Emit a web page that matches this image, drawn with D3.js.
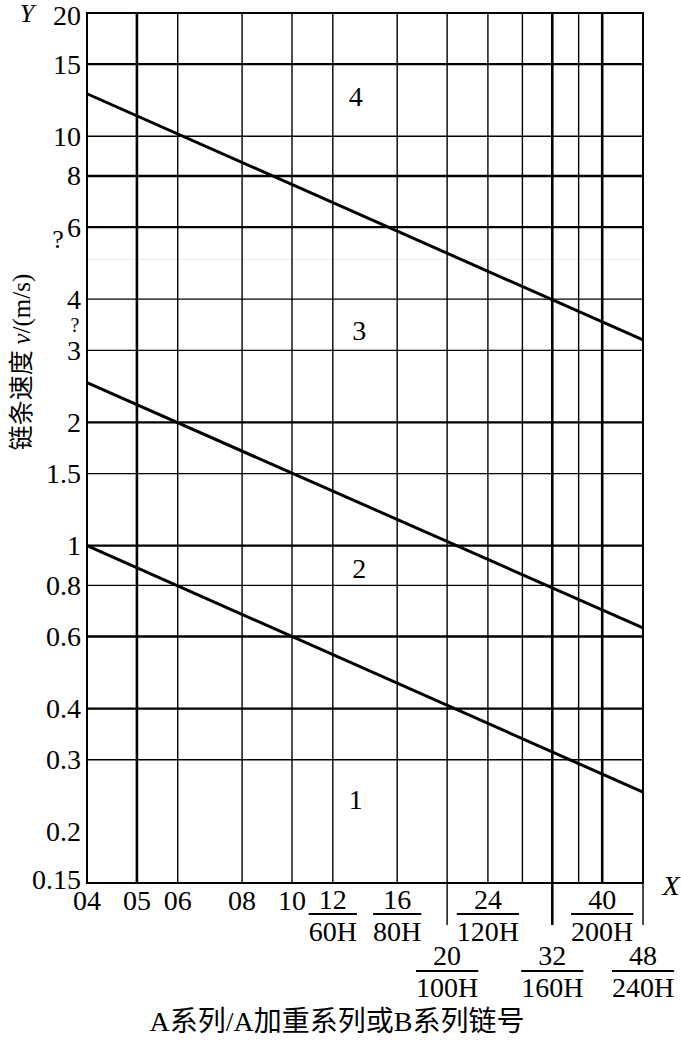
<!DOCTYPE html>
<html>
<head>
<meta charset="utf-8">
<script src="https://cdn.jsdelivr.net/npm/d3@7"></script>
<style>
  html, body { margin: 0; padding: 0; background: #fff; }
  svg { display: block; }
  text { font-family: "Liberation Serif", "Times New Roman", "Noto Sans CJK SC", serif; fill: #000; }
</style>
</head>
<body>
<svg id="chart" width="681" height="1043"></svg>
<script>
// ---- data ----
const chainGrid = [4, 5, 6, 8, 10, 12, 16, 20, 24, 28, 32, 36, 40, 48];
const chainThick = [5, 32, 40];
const speedGrid = [15, 10, 8, 6, 4, 3, 2, 1.5, 1, 0.8, 0.6, 0.4, 0.3];
const speedThick = [15, 8, 6, 2, 1, 0.6, 0.4];
const speedFaint = [5];
const yTickValues = [20, 15, 10, 8, 6, 4, 3, 2, 1.5, 1, 0.8, 0.6, 0.4, 0.3, 0.2, 0.15];
const yTickLabels = ["20", "15", "10", "8", "6", "4", "3", "2", "1.5", "1", "0.8", "0.6", "0.4", "0.3", "0.2", "0.15"];
const xPlainTicks = [4, 5, 6, 8, 10];
const xPlainLabels = ["04", "05", "06", "08", "10"];
const xUpperFracTicks = [12, 16, 24, 40];
const xUpperFracNum = ["12", "16", "24", "40"];
const xUpperFracDen = ["60H", "80H", "120H", "200H"];
const xLowerFracTicks = [20, 32, 48];
const xLowerFracNum = ["20", "32", "48"];
const xLowerFracDen = ["100H", "160H", "240H"];
const lineChain = [4, 48];
const line1 = [1.0, 0.25];
const line2 = [2.5, 0.63];
const line3 = [12.7, 3.18];
const curveLabels = ["1", "2", "3", "4"];
const curveLabelX = [13.3, 13.5, 13.5, 13.3];
const curveLabelY = [0.24, 0.88, 3.36, 12.5];
const glitchMarks = ["?", "?"];
const glitchY = [5.6, 3.45];

// ---- layout ----
const L = 87, R = 643, T = 13, B = 883;
const svg = d3.select("#chart");
const x = d3.scaleLog().domain([4, 48]).range([L, R]);
const y = d3.scaleLog().domain([0.15, 20]).range([B, T]);
const FS = 28;

// faint lines
svg.append("g").selectAll("line").data(speedFaint).join("line")
  .attr("x1", L).attr("x2", R).attr("y1", d => y(d)).attr("y2", d => y(d))
  .attr("stroke", "#ececec").attr("stroke-width", 1);

// horizontal grid
svg.append("g").selectAll("line").data(speedGrid).join("line")
  .attr("x1", L).attr("x2", R).attr("y1", d => y(d)).attr("y2", d => y(d))
  .attr("stroke", "#000")
  .attr("stroke-width", d => speedThick.includes(d) ? 2.4 : 1.4);

// vertical grid
svg.append("g").selectAll("line").data(chainGrid.filter(d => d !== 4 && d !== 48)).join("line")
  .attr("x1", d => x(d)).attr("x2", d => x(d)).attr("y1", T).attr("y2", B)
  .attr("stroke", "#000")
  .attr("stroke-width", d => chainThick.includes(d) ? 2.6 : 1.4);

// extended ticks below axis
svg.append("g").selectAll("line").data(xLowerFracTicks).join("line")
  .attr("x1", d => x(d)).attr("x2", d => x(d)).attr("y1", B).attr("y2", B + 42)
  .attr("stroke", "#000")
  .attr("stroke-width", d => chainThick.includes(d) ? 2.6 : 1.4);

// frame
svg.append("rect").attr("x", L).attr("y", T).attr("width", R - L).attr("height", B - T)
  .attr("fill", "none").attr("stroke", "#000").attr("stroke-width", 2);

// curves
const lineGen = d3.line().x(d => x(d[0])).y(d => y(d[1]));
[line1, line2, line3].forEach(s => {
  svg.append("path")
    .datum(lineChain.map((c, i) => [c, s[i]]))
    .attr("d", lineGen)
    .attr("fill", "none").attr("stroke", "#000").attr("stroke-width", 3);
});

// curve labels
svg.append("g").selectAll("text").data(curveLabels).join("text")
  .attr("x", (d, i) => x(curveLabelX[i])).attr("y", (d, i) => y(curveLabelY[i]))
  .attr("text-anchor", "middle").attr("dominant-baseline", "central")
  .attr("font-size", FS).text(d => d);

// y tick labels
svg.append("g").selectAll("text").data(yTickValues).join("text")
  .attr("x", L - 6).attr("y", d => y(d) + (d === 0.15 ? -4 : d === 20 ? 2 : 0))
  .attr("text-anchor", "end").attr("dominant-baseline", "central")
  .attr("font-size", FS).text((d, i) => yTickLabels[i]);

// glitch marks
svg.append("g").selectAll("text").data(glitchMarks).join("text")
  .attr("x", (d, i) => i === 0 ? 58 : 75).attr("y", (d, i) => y(glitchY[i]))
  .attr("text-anchor", "middle").attr("dominant-baseline", "central")
  .attr("font-size", (d, i) => i === 0 ? 26 : 20).text(d => d);

// x plain labels
svg.append("g").selectAll("text").data(xPlainTicks).join("text")
  .attr("x", d => x(d)).attr("y", 910)
  .attr("text-anchor", "middle").attr("font-size", FS)
  .text((d, i) => xPlainLabels[i]);

function fractions(ticks, nums, dens, numY, barY, denY) {
  const g = svg.append("g");
  ticks.forEach((t, i) => {
    const cx = x(t);
    g.append("text").attr("x", cx).attr("y", numY).attr("text-anchor", "middle")
      .attr("font-size", FS).text(nums[i]);
    const den = g.append("text").attr("x", cx).attr("y", denY).attr("text-anchor", "middle")
      .attr("font-size", FS).text(dens[i]);
    const w = den.node().getComputedTextLength();
    g.append("line").attr("x1", cx - w / 2).attr("x2", cx + w / 2)
      .attr("y1", barY).attr("y2", barY).attr("stroke", "#000").attr("stroke-width", 1.8);
  });
}
fractions(xUpperFracTicks, xUpperFracNum, xUpperFracDen, 909, 914, 941);
fractions(xLowerFracTicks, xLowerFracNum, xLowerFracDen, 965, 971, 997);

// axis letters
svg.append("text").attr("x", 27).attr("y", 22).attr("text-anchor", "middle")
  .attr("font-size", 26).attr("font-style", "italic").text("Y");
svg.append("text").attr("x", 671).attr("y", 885).attr("text-anchor", "middle")
  .attr("dominant-baseline", "central").attr("font-size", FS).attr("font-style", "italic").text("X");

// y axis title
const yt = svg.append("text")
  .attr("transform", "translate(30,362) rotate(-90)")
  .attr("text-anchor", "middle").attr("font-size", 25);
yt.append("tspan").attr("font-family", "'Noto Sans CJK SC'").text("链条速度 ");
yt.append("tspan").attr("font-style", "italic").text("v");
yt.append("tspan").text("/(m/s)");

// x axis title
svg.append("text").attr("x", 337).attr("y", 1031).attr("text-anchor", "middle")
  .attr("font-size", 28).text("A系列/A加重系列或B系列链号");
</script>
</body>
</html>
